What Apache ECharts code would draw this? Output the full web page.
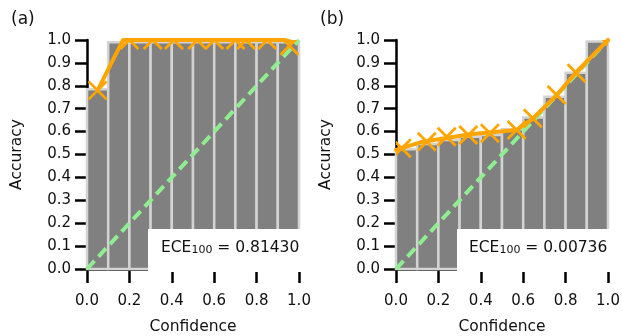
<!DOCTYPE html>
<html>
<head>
<meta charset="utf-8">
<script src="https://cdn.jsdelivr.net/npm/echarts@6/dist/echarts.min.js"></script>
<style>
html,body{margin:0;padding:0;background:#fff;}
#c{width:622px;height:336px;}
</style>
</head>
<body>
<div id="c"></div>
<script>
// ---- data ----
const binEdges = [0.0, 0.1, 0.2, 0.3, 0.4, 0.5, 0.6, 0.7, 0.8, 0.9, 1.0];
const tickLabels = ['0.0','0.1','0.2','0.3','0.4','0.5','0.6','0.7','0.8','0.9','1.0'];

// panel (a)
const barAccA = [0.785, 0.99, 0.99, 0.99, 0.99, 0.99, 0.99, 0.99, 0.99, 0.99];
const markerConfA = [0.05, 0.20, 0.31, 0.41, 0.52, 0.60, 0.70, 0.75, 0.85, 0.955];
const markerAccA = [0.78, 1.0, 1.0, 1.0, 1.0, 1.0, 1.0, 1.0, 1.0, 0.975];
const lineConfA = [0.05, 0.17, 0.93, 0.97];
const lineAccA = [0.78, 1.0, 1.0, 0.99];
const eceA = '0.81430';

// panel (b)
const barAccB = [0.523, 0.546, 0.563, 0.578, 0.585, 0.61, 0.662, 0.752, 0.857, 0.993];
const markerConfB = [0.027, 0.145, 0.239, 0.341, 0.443, 0.569, 0.645, 0.758, 0.852, 0.99];
const markerAccB = [0.527, 0.556, 0.578, 0.585, 0.593, 0.607, 0.658, 0.76, 0.855, 0.99];
const lineConfB = [0.0, 0.127, 0.35, 0.57, 0.647, 0.758, 0.852, 1.0];
const lineAccB = [0.52, 0.556, 0.588, 0.607, 0.658, 0.76, 0.862, 1.0];
const eceB = '0.00736';

const diagConf = [0.0, 1.0];
const diagAcc = [0.0, 1.0];

// ---- styles ----
const FONT = 'DejaVu Sans';
const ORANGE = '#ffa500';
const GREEN = '#90ee90';
const TXT = '#111';

function barData(acc){
  return acc.map((a,i)=>[binEdges[i], binEdges[i+1], a]);
}
function zip(xs, ys){ return xs.map((x,i)=>[x, ys[i]]); }

function xAxisFor(idx){
  return {
    type:'value', gridIndex:idx, min:0, max:1, interval:0.2,
    name:'Confidence', nameLocation:'middle', nameGap:50,
    nameTextStyle:{fontFamily:FONT, fontSize:15.5, color:TXT},
    axisLine:{show:true, onZero:false, lineStyle:{color:'#000', width:2.5}},
    axisTick:{show:true, length:14, lineStyle:{color:'#000', width:2.5}},
    axisLabel:{fontFamily:FONT, fontSize:15, color:TXT, margin:25,
      formatter:v=>tickLabels[Math.round(v*10)]},
    splitLine:{show:false}
  };
}
function yAxisFor(idx){
  return {
    type:'value', gridIndex:idx, min:0, max:1, interval:0.1,
    name:'Accuracy', nameLocation:'middle', nameGap:62,
    nameTextStyle:{fontFamily:FONT, fontSize:15.5, color:TXT},
    axisLine:{show:true, onZero:false, lineStyle:{color:'#000', width:2.5}},
    axisTick:{show:true, length:12, lineStyle:{color:'#000', width:2.5}},
    axisLabel:{fontFamily:FONT, fontSize:15, color:TXT, margin:16,
      formatter:v=>tickLabels[Math.round(v*10)]},
    splitLine:{show:false}
  };
}

function barSeries(idx, acc){
  return {
    type:'custom', xAxisIndex:idx, yAxisIndex:idx, z:1, clip:false,
    data: barData(acc),
    renderItem:(params, api)=>{
      const p0 = api.coord([api.value(0), api.value(2)]);
      const p1 = api.coord([api.value(1), 0]);
      return {type:'rect', shape:{x:p0[0], y:p0[1], width:p1[0]-p0[0], height:p1[1]-p0[1]},
        style:{fill:'#808080', stroke:'#d3d3d3', lineWidth:2.5}};
    }
  };
}
function diagSeries(idx){
  return {
    type:'line', xAxisIndex:idx, yAxisIndex:idx, z:2, symbol:'none', clip:true,
    data: zip(diagConf, diagAcc),
    lineStyle:{color:GREEN, width:4, type:[11,6]}
  };
}
function lineSeries(idx, xs, ys){
  return {
    type:'line', xAxisIndex:idx, yAxisIndex:idx, z:3, symbol:'none', clip:true,
    data: zip(xs, ys),
    lineStyle:{color:ORANGE, width:4, join:'round', cap:'round'}
  };
}
function markerSeries(idx, xs, ys){
  return {
    type:'custom', xAxisIndex:idx, yAxisIndex:idx, z:4, clip:true,
    data: zip(xs, ys),
    renderItem:(params, api)=>{
      const p = api.coord([api.value(0), api.value(1)]);
      const s = 9;
      return {type:'group', children:[
        {type:'line', shape:{x1:p[0]-s, y1:p[1]-s, x2:p[0]+s, y2:p[1]+s}, style:{stroke:ORANGE, lineWidth:2.8}},
        {type:'line', shape:{x1:p[0]-s, y1:p[1]+s, x2:p[0]+s, y2:p[1]-s}, style:{stroke:ORANGE, lineWidth:2.8}}
      ]};
    }
  };
}

function eceBox(left, textLeft, val){
  return [
    {type:'rect', left:left, top:229, z:100, shape:{width:160, height:43}, style:{fill:'#fff'}},
    {type:'text', left:textLeft, top:240, z:101,
      style:{text:'{m|ECE}{s|100}{m| = '+val+'}', fill:TXT,
        rich:{
          m:{fontFamily:FONT, fontSize:15.5, lineHeight:22, verticalAlign:'bottom', fill:TXT},
          s:{fontFamily:FONT, fontSize:11, lineHeight:14, verticalAlign:'bottom', fill:TXT}
        }}}
  ];
}

const chart = echarts.init(document.getElementById('c'), null, {renderer:'canvas'});
chart.setOption({
  animation:false,
  backgroundColor:'#fff',
  grid:[
    {left:87, top:40, width:212, height:229, outerBoundsMode:'none', containLabel:false},
    {left:396, top:40, width:212, height:229, outerBoundsMode:'none', containLabel:false}
  ],
  xAxis:[xAxisFor(0), xAxisFor(1)],
  yAxis:[yAxisFor(0), yAxisFor(1)],
  series:[
    barSeries(0, barAccA), diagSeries(0), lineSeries(0, lineConfA, lineAccA), markerSeries(0, markerConfA, markerAccA),
    barSeries(1, barAccB), diagSeries(1), lineSeries(1, lineConfB, lineAccB), markerSeries(1, markerConfB, markerAccB)
  ],
  graphic:[
    {type:'text', left:11, top:11, style:{text:'(a)', fontFamily:FONT, fontSize:17, fill:TXT}},
    {type:'text', left:320, top:11, style:{text:'(b)', fontFamily:FONT, fontSize:17, fill:TXT}},
    ...eceBox(148, 161, eceA),
    ...eceBox(457, 469, eceB)
  ]
});
</script>
</body>
</html>
